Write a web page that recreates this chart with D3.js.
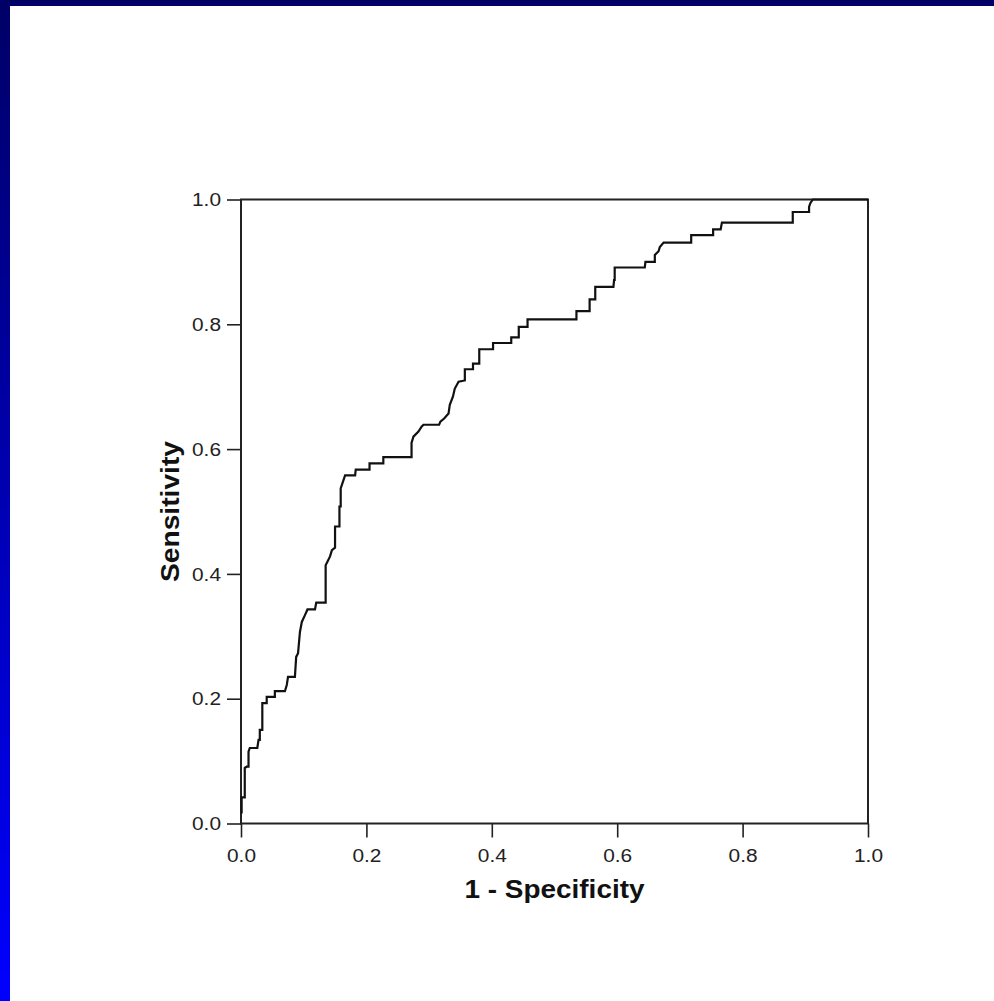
<!DOCTYPE html>
<html>
<head>
<meta charset="utf-8">
<script src="https://cdn.jsdelivr.net/npm/d3@7"></script>
<style>
  html, body { margin: 0; padding: 0; background: #fff; }
  svg { display: block; }
</style>
</head>
<body>
<script>
// ROC curve: 1 - Specificity (false positive rate) vs Sensitivity (true positive rate)
const fpr = [0.001, 0.001, 0.006, 0.006, 0.009, 0.012, 0.012, 0.014, 0.026, 0.028, 0.030, 0.030, 0.034, 0.034,
  0.041, 0.041, 0.054, 0.054, 0.070, 0.073, 0.075, 0.086, 0.088, 0.091, 0.094, 0.097, 0.102, 0.106, 0.118, 0.120,
  0.135, 0.135, 0.139, 0.142, 0.145, 0.150, 0.150, 0.157, 0.157, 0.159, 0.159, 0.166, 0.182, 0.183, 0.205, 0.205,
  0.227, 0.227, 0.272, 0.272, 0.275, 0.283, 0.288, 0.291, 0.316, 0.318, 0.324, 0.331, 0.333, 0.338, 0.341, 0.347,
  0.357, 0.357, 0.370, 0.370, 0.380, 0.380, 0.402, 0.402, 0.431, 0.431, 0.443, 0.443, 0.457, 0.457, 0.535, 0.535,
  0.556, 0.556, 0.565, 0.565, 0.594, 0.595, 0.596, 0.596, 0.644, 0.645, 0.660, 0.660, 0.666, 0.668, 0.674, 0.718,
  0.718, 0.753, 0.753, 0.765, 0.767, 0.880, 0.880, 0.906, 0.906, 0.908, 0.912, 1.000];
const tpr = [0.016, 0.042, 0.042, 0.089, 0.091, 0.091, 0.115, 0.121, 0.121, 0.134, 0.134, 0.150, 0.150, 0.193,
  0.193, 0.203, 0.203, 0.212, 0.212, 0.222, 0.235, 0.235, 0.267, 0.273, 0.307, 0.323, 0.334, 0.343, 0.343, 0.354,
  0.354, 0.414, 0.422, 0.428, 0.438, 0.442, 0.476, 0.476, 0.508, 0.508, 0.537, 0.558, 0.558, 0.567, 0.567, 0.577,
  0.577, 0.587, 0.587, 0.610, 0.620, 0.628, 0.636, 0.639, 0.639, 0.644, 0.649, 0.657, 0.671, 0.684, 0.697, 0.708,
  0.710, 0.728, 0.728, 0.737, 0.737, 0.760, 0.760, 0.770, 0.770, 0.779, 0.779, 0.796, 0.796, 0.808, 0.808, 0.821,
  0.821, 0.840, 0.840, 0.860, 0.860, 0.871, 0.871, 0.891, 0.891, 0.900, 0.900, 0.911, 0.917, 0.924, 0.931, 0.931,
  0.943, 0.943, 0.952, 0.952, 0.963, 0.963, 0.980, 0.980, 0.988, 0.994, 1.000, 1.000];
const tickValues = [0.0, 0.2, 0.4, 0.6, 0.8, 1.0];
const xTitle = "1 - Specificity";
const yTitle = "Sensitivity";

const W = 994, H = 1001;
const svg = d3.select("body").append("svg").attr("width", W).attr("height", H);

// slide background decorations
const defs = svg.append("defs");
const grad = defs.append("linearGradient").attr("id", "leftbar")
  .attr("x1", 0).attr("y1", 0).attr("x2", 0).attr("y2", 1);
grad.append("stop").attr("offset", "0%").attr("stop-color", "#000066");
grad.append("stop").attr("offset", "100%").attr("stop-color", "#0000ff");
svg.append("rect").attr("x", 0).attr("y", 0).attr("width", W).attr("height", H).attr("fill", "#fff");
svg.append("rect").attr("x", 0).attr("y", 0).attr("width", 10).attr("height", H).attr("fill", "url(#leftbar)");
svg.append("rect").attr("x", 0).attr("y", 0).attr("width", W).attr("height", 6).attr("fill", "#000066");

const x = d3.scaleLinear().domain([0, 1]).range([241, 868]);
const y = d3.scaleLinear().domain([0, 1]).range([823.5, 199.5]);

const font = "'Liberation Sans', Arial, Helvetica, sans-serif";

// axes
const xAxis = svg.append("g").attr("transform", `translate(0,${y(0)})`)
  .call(d3.axisBottom(x).tickValues(tickValues).tickSize(14).tickPadding(10).tickFormat(d3.format(".1f")));
const yAxis = svg.append("g").attr("transform", `translate(${x(0)},0)`)
  .call(d3.axisLeft(y).tickValues(tickValues).tickSize(14).tickPadding(6).tickFormat(d3.format(".1f")));
[xAxis, yAxis].forEach(g => {
  g.select(".domain").remove();
  g.selectAll(".tick line").attr("stroke", "#222").attr("stroke-width", 1.6);
  g.selectAll(".tick text").attr("fill", "#222").style("font-family", font).style("font-size", "18px")
    .attr("textLength", 29).attr("lengthAdjust", "spacingAndGlyphs");
});
xAxis.selectAll(".tick text").attr("dy", null).attr("y", 38);
yAxis.selectAll(".tick text").attr("x", -20).attr("dy", "0.34em");

// frame
svg.append("rect").attr("x", x(0)).attr("y", y(1)).attr("width", x(1) - x(0)).attr("height", y(0) - y(1))
  .attr("fill", "none").attr("stroke", "#222").attr("stroke-width", 2);

// ROC curve
const pts = fpr.map((f, i) => [f, tpr[i]]);
svg.append("path").datum(pts)
  .attr("d", d3.line().x(d => x(d[0])).y(d => y(d[1])))
  .attr("fill", "none").attr("stroke", "#111").attr("stroke-width", 2.2).attr("stroke-linejoin", "miter");

// axis titles
svg.append("text").attr("x", (x(0) + x(1)) / 2).attr("y", 898).attr("text-anchor", "middle")
  .style("font-family", font).style("font-weight", "bold").style("font-size", "26px").attr("fill", "#111")
  .attr("textLength", 180).attr("lengthAdjust", "spacingAndGlyphs").text(xTitle);
svg.append("text").attr("transform", `translate(179,${(y(0) + y(1)) / 2}) rotate(-90)`).attr("text-anchor", "middle")
  .style("font-family", font).style("font-weight", "bold").style("font-size", "26px").attr("fill", "#111")
  .attr("textLength", 141).attr("lengthAdjust", "spacingAndGlyphs").text(yTitle);
</script>
</body>
</html>
